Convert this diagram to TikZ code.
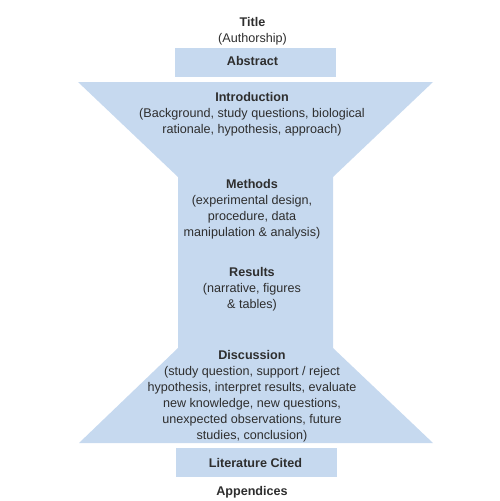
\documentclass[tikz,border=0pt]{standalone}
\usepackage{fontspec}
\setmainfont{Liberation Sans}
\definecolor{funnel}{HTML}{C6D9EF}
\definecolor{txt}{HTML}{2E2E2E}
\begin{document}
\begin{tikzpicture}[x=1pt,y=-1pt,
  lbl/.style={text=txt,align=center,inner sep=0pt,font=\fontsize{12.6}{16}\selectfont}]
\useasboundingbox (0,0) rectangle (500,501);
% shapes
\fill[funnel] (175,48) rectangle (336,77);
\fill[funnel] (78,82) -- (433,82) -- (333,177) -- (333,348) -- (433,443) -- (79,443) -- (178,348) -- (178,177) -- cycle;
\fill[funnel] (176,448) rectangle (337,477);
% texts
\node[lbl] (title) at (252.5,31.5) {\textbf{Title}\\(Authorship)};
\node[lbl] (abs) at (252.5,61) {\textbf{Abstract}};
\node[lbl] (intro) at (252,114.5) {\textbf{Introduction}\\(Background, study questions, biological\\rationale, hypothesis, approach)};
\node[lbl] (meth) at (252,209.5) {\textbf{Methods}\\(experimental design,\\procedure, data\\manipulation \& analysis)};
\node[lbl] (res) at (252,289) {\textbf{Results}\\(narrative, figures\\\& tables)};
\node[lbl] (disc) at (252,396.5) {\textbf{Discussion}\\(study question, support / reject\\hypothesis, interpret results, evaluate\\new knowledge, new questions,\\unexpected observations, future\\studies, conclusion)};
\node[lbl] (lit) at (255.5,463) {\textbf{Literature Cited}};
\node[lbl] (app) at (252,492.5) {\textbf{Appendices}};
\end{tikzpicture}
\end{document}
